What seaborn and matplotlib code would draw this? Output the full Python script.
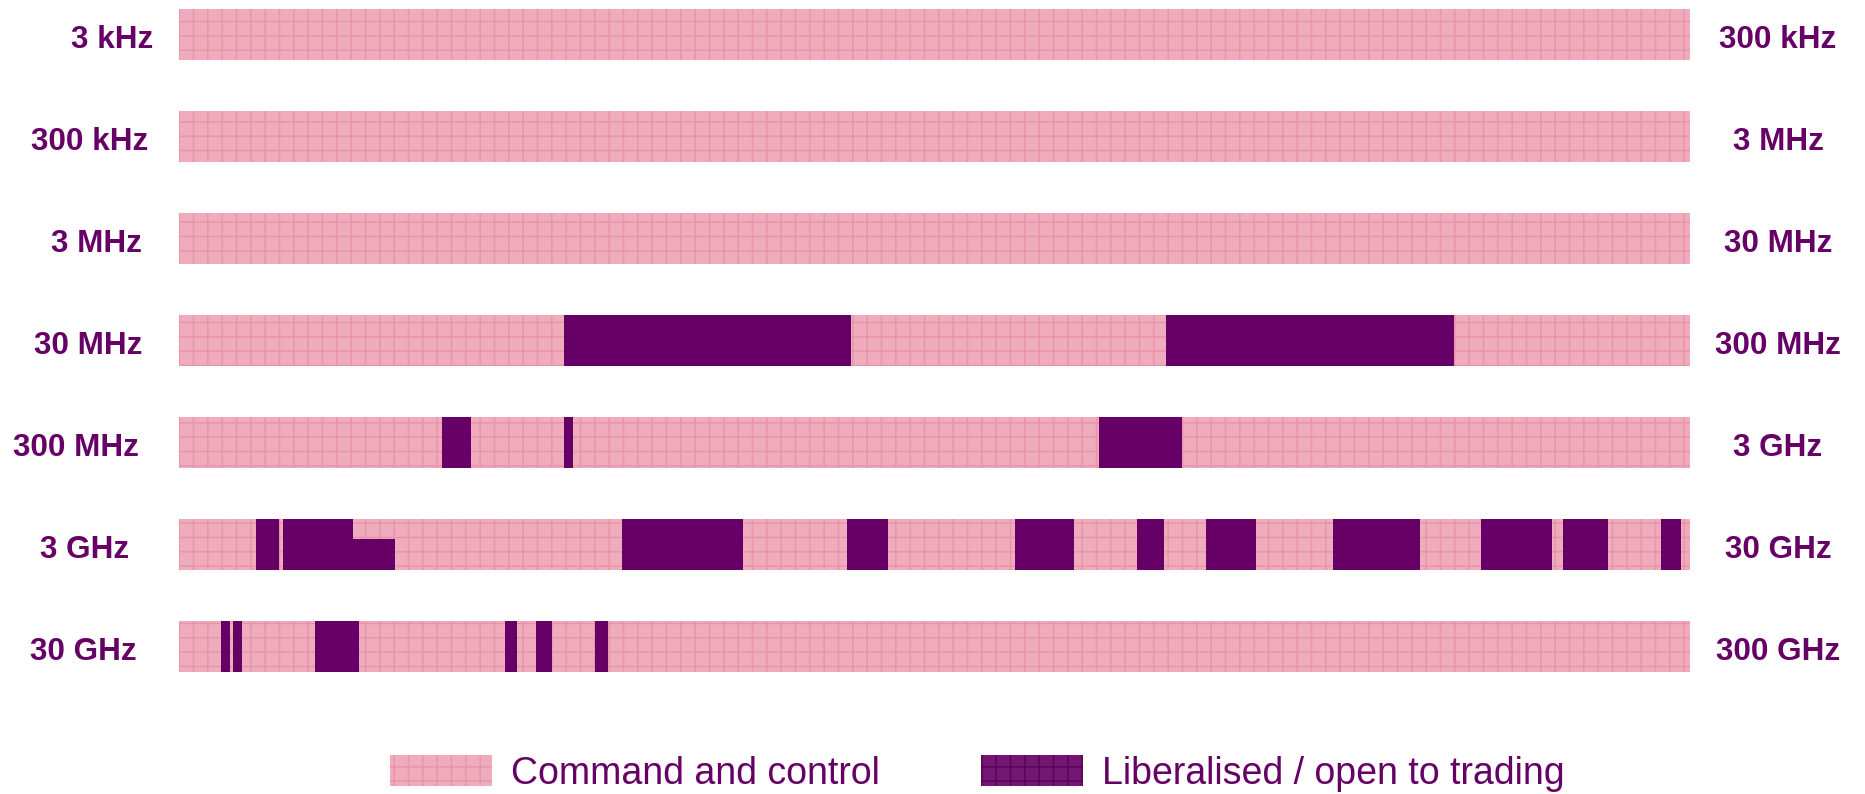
import numpy as np
import matplotlib
matplotlib.use("Agg")
import matplotlib.pyplot as plt
from matplotlib.patches import Patch
import seaborn as sns

# ---------------- data ----------------
band_start_labels = ["3 kHz", "300 kHz", "3 MHz", "30 MHz", "300 MHz", "3 GHz", "30 GHz"]
band_end_labels = ["300 kHz", "3 MHz", "30 MHz", "300 MHz", "3 GHz", "30 GHz", "300 GHz"]
band_span = [100, 100, 100, 100, 100, 100, 100]  # each row = 100 % of its band

# liberalised / open-to-trading blocks (row index, start %, end %)
lib_row = [3, 3,
           4, 4, 4,
           5, 5, 5, 5, 5, 5, 5, 5, 5, 5, 5,
           6, 6, 6, 6, 6, 6]
lib_start = [25.5, 65.3,
             17.4, 25.5, 60.9,
             5.1, 6.9, 29.3, 44.2, 55.3, 63.4, 68.0, 76.4, 86.2, 91.6, 98.1,
             2.8, 3.6, 9.0, 21.6, 23.6, 27.5]
lib_end = [44.5, 84.4,
           19.3, 26.1, 66.4,
           6.6, 11.5, 37.3, 46.9, 59.2, 65.2, 71.3, 82.1, 90.9, 94.6, 99.4,
           3.4, 4.2, 11.9, 22.4, 24.7, 28.4]

# partially liberalised block (share of the row height, aligned to bottom)
part_row = [5]
part_start = [11.5]
part_end = [14.3]
part_share = [0.6]

legend_labels = ["Command and control", "Liberalised / open to trading"]

# ---------------- style ----------------
PINK = "#efacbc"
PINK_LINE = "#e894ab"
PURPLE = "#660066"
PURPLE_SW = "#731673"
PURPLE_SW_LINE = "#580058"

W, H, DPI = 1865, 794, 86


def pt(px):
    return px * 72.0 / DPI


def px_to_x(px):
    return (px - 179) / 1511 * 100


sns.set_theme(style="white")
plt.rcParams["font.family"] = ["Liberation Sans", "DejaVu Sans"]
plt.rcParams["hatch.linewidth"] = 1.2

fig = plt.figure(figsize=(W / DPI, H / DPI), dpi=DPI)
ax = fig.add_axes([179 / W, 1 - 672 / H, 1511 / W, 663 / H])

rows = np.arange(len(band_start_labels))
BAR_H = 0.5

sns.barplot(x=band_span, y=rows, orient="y", native_scale=True, width=BAR_H,
            color=PINK, saturation=1, edgecolor=PINK_LINE, linewidth=0,
            hatch="+", errorbar=None, ax=ax)

ax.barh(lib_row, np.subtract(lib_end, lib_start), left=lib_start,
        height=BAR_H, color=PURPLE, linewidth=0, zorder=3)

ph = np.multiply(part_share, BAR_H)
ax.barh(np.array(part_row) + BAR_H / 2 - ph, np.subtract(part_end, part_start),
        left=part_start, height=ph, align="edge", color=PURPLE, linewidth=0, zorder=3)

ax.set_xlim(0, 100)
ax.set_ylim(len(rows) - 1 + 0.25, -0.25)
ax.axis("off")

left_centers_px = [112, 90, 96, 88, 76, 85, 83]
right_center_px = 1778
for i in rows:
    ax.text(px_to_x(left_centers_px[i]), i + 0.13, band_start_labels[i],
            ha="center", va="baseline", fontsize=pt(31.5), fontweight="bold",
            color=PURPLE, clip_on=False)
    ax.text(px_to_x(right_center_px), i + 0.13, band_end_labels[i],
            ha="center", va="baseline", fontsize=pt(31.5), fontweight="bold",
            color=PURPLE, clip_on=False)

handles = [
    Patch(facecolor=PINK, edgecolor=PINK_LINE, hatch="+", linewidth=0),
    Patch(facecolor=PURPLE_SW, edgecolor=PURPLE_SW_LINE, hatch="+", linewidth=0),
]
fs = 37.5
fig.legend(handles, legend_labels, loc="center",
           bbox_to_anchor=(977.5 / W, 1 - 773.5 / H), ncol=2, frameon=False,
           fontsize=pt(fs), handlelength=102 / fs, handleheight=33 / fs,
           handletextpad=19 / fs, columnspacing=101 / fs, borderpad=0,
           borderaxespad=0, labelcolor=PURPLE)

fig.savefig("out.png", dpi=DPI)
